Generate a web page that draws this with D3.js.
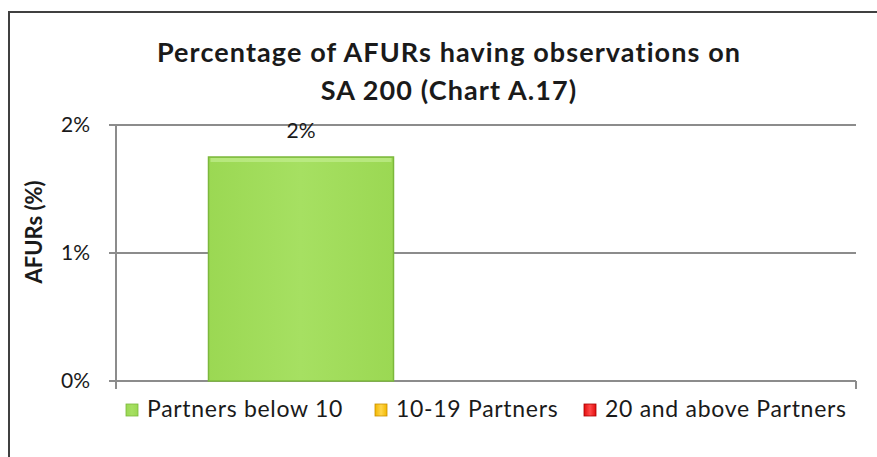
<!DOCTYPE html>
<html lang="en">
<head>
    <meta charset="UTF-8">
    <title>Percentage of AFURs having observations on SA 200 (Chart A.17)</title>
    <script src="https://d3js.org/d3.v7.min.js"></script>
    <style>
        body { margin: 0; background: #fff; overflow: hidden; }
        svg { display: block; }
        text { font-family: Lato, "Open Sans", sans-serif; fill: #1a1a1a; }
    </style>
</head>
<body>
    <div id="chart"></div>

    <script>
        // Data
        const categories = ["SA 200"];
        const seriesNames = ["Partners below 10", "10-19 Partners", "20 and above Partners"];
        const seriesValues = [0.0175, null, null];
        const seriesLabels = ["2%", "", ""];
        const yTicks = [0, 0.01, 0.02];
        const titleLines = ["Percentage of AFURs having observations on", "SA 200 (Chart A.17)"];
        const yTitle = "AFURs (%)";

        const seriesColors = [
            { light: "#a6e062", mid: "#9bd853", dark: "#7cb83c" },
            { light: "#ffd54a", mid: "#f2b800", dark: "#c98f00" },
            { light: "#ff4a4a", mid: "#e30c0c", dark: "#a80000" }
        ];

        const width = 877, height = 457;
        const margin = { top: 125, right: 21, bottom: 76, left: 116 };

        const svg = d3.select("#chart")
            .append("svg")
            .attr("width", width)
            .attr("height", height);

        // Gradients for bar and legend markers
        const defs = svg.append("defs");
        seriesColors.forEach((c, i) => {
            const g = defs.append("linearGradient")
                .attr("id", "grad" + i)
                .attr("x1", "0").attr("y1", "0").attr("x2", "1").attr("y2", "0");
            g.append("stop").attr("offset", "0%").attr("stop-color", c.mid);
            g.append("stop").attr("offset", "50%").attr("stop-color", c.light);
            g.append("stop").attr("offset", "100%").attr("stop-color", c.mid);
        });

        // Outer frame: only the top and left edges are inside the picture
        svg.append("path")
            .attr("d", `M9,${height} V12 H${width}`)
            .attr("fill", "none")
            .attr("stroke", "#404040")
            .attr("stroke-width", 2);

        // Title
        svg.append("text")
            .attr("text-anchor", "middle")
            .attr("font-size", 27)
            .attr("font-weight", "bold")
            .attr("letter-spacing", 1.1)
            .selectAll("tspan")
            .data(titleLines)
            .join("tspan")
            .attr("x", 449)
            .attr("y", (d, i) => 62 + i * 38)
            .text(d => d);

        // Scales
        const x0 = d3.scaleBand()
            .domain(categories)
            .range([margin.left, width - margin.right]);

        const x1 = d3.scaleBand()
            .domain(seriesNames)
            .range([0, x0.bandwidth()])
            .paddingInner(0)
            .paddingOuter(0.5);

        const y = d3.scaleLinear()
            .domain([0, 0.02])
            .range([height - margin.bottom, margin.top]);

        // Gridlines
        svg.append("g")
            .selectAll("line")
            .data(yTicks)
            .join("line")
            .attr("x1", margin.left - 7)
            .attr("x2", width - margin.right)
            .attr("y1", d => y(d))
            .attr("y2", d => y(d))
            .attr("stroke", "#8c8c8c")
            .attr("stroke-width", 2);

        // Y axis
        const yAxis = svg.append("g")
            .attr("transform", `translate(${margin.left},0)`)
            .call(d3.axisLeft(y).tickValues(yTicks).tickFormat(d3.format(".0%")).tickSize(7).tickPadding(19));
        yAxis.select(".domain").remove();
        yAxis.selectAll(".tick line").remove();
        yAxis.selectAll(".tick text")
            .attr("font-size", 21)
            .attr("font-family", "Lato, sans-serif")
            .attr("fill", "#1a1a1a");
        svg.append("line")
            .attr("x1", margin.left).attr("x2", margin.left)
            .attr("y1", y(0.02)).attr("y2", y(0) + 8)
            .attr("stroke", "#8c8c8c").attr("stroke-width", 2);

        // X axis end tick on the right
        svg.append("line")
            .attr("x1", width - margin.right).attr("x2", width - margin.right)
            .attr("y1", y(0)).attr("y2", y(0) + 8)
            .attr("stroke", "#8c8c8c").attr("stroke-width", 2);

        // Y axis title
        svg.append("text")
            .attr("transform", "translate(42, 232) rotate(-90)")
            .attr("text-anchor", "middle")
            .attr("font-size", 22)
            .attr("font-weight", "bold")
            .text(yTitle);

        // Bars
        const bars = seriesNames.map((name, i) => ({ name, value: seriesValues[i], label: seriesLabels[i], i }))
            .filter(d => d.value !== null);

        const barG = svg.append("g")
            .attr("transform", `translate(${x0(categories[0])},0)`);

        barG.selectAll("rect")
            .data(bars)
            .join("rect")
            .attr("x", d => x1(d.name))
            .attr("y", d => y(d.value))
            .attr("width", x1.bandwidth())
            .attr("height", d => y(0) - y(d.value))
            .attr("fill", d => `url(#grad${d.i})`)
            .attr("stroke", d => seriesColors[d.i].dark)
            .attr("stroke-width", 1.5);

        // Bevel highlight along the top edge
        barG.selectAll(".bevel")
            .data(bars)
            .join("rect")
            .attr("class", "bevel")
            .attr("x", d => x1(d.name) + 2)
            .attr("y", d => y(d.value) + 1)
            .attr("width", x1.bandwidth() - 4)
            .attr("height", 4)
            .attr("fill", "#c2ee8e")
            .attr("opacity", 0.7);

        // Data labels
        barG.selectAll(".label")
            .data(bars)
            .join("text")
            .attr("class", "label")
            .attr("x", d => x1(d.name) + x1.bandwidth() / 2)
            .attr("y", 138)
            .attr("text-anchor", "middle")
            .attr("font-size", 21)
            .text(d => d.label);

        // Legend
        const legendX = [126, 375, 584];
        const legend = svg.append("g")
            .selectAll("g")
            .data(seriesNames)
            .join("g")
            .attr("transform", (d, i) => `translate(${legendX[i]}, 404)`);

        legend.append("rect")
            .attr("width", 12)
            .attr("height", 12)
            .attr("fill", (d, i) => `url(#grad${i})`)
            .attr("stroke", (d, i) => seriesColors[i].dark)
            .attr("stroke-width", 0.8);

        legend.append("text")
            .attr("x", 21)
            .attr("y", 13)
            .attr("font-size", 23)
            .attr("letter-spacing", 0.7)
            .text(d => d);
    </script>
</body>
</html>
